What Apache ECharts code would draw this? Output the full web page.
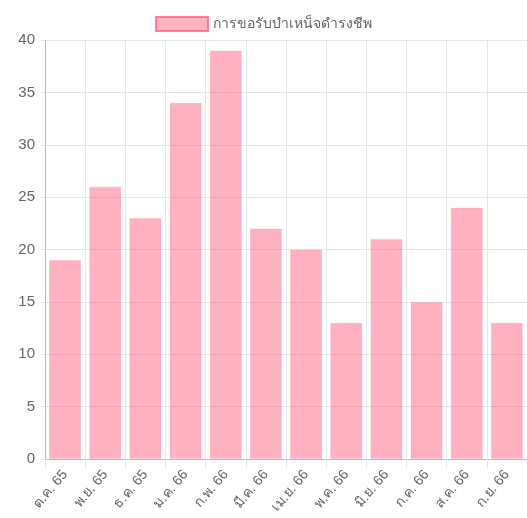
<!DOCTYPE html>
<html>
<head>
<meta charset="utf-8">
<script src="https://cdn.jsdelivr.net/npm/echarts@6/dist/echarts.min.js"></script>
<style>
  html, body { margin: 0; padding: 0; background: #fff; }
  #chart { width: 527px; height: 518px; }
</style>
</head>
<body>
<div id="chart"></div>
<script>
const months = ['ต.ค. 65', 'พ.ย. 65', 'ธ.ค. 65', 'ม.ค. 66', 'ก.พ. 66', 'มี.ค. 66',
    'เม.ย. 66', 'พ.ค. 66', 'มิ.ย. 66', 'ก.ค. 66', 'ส.ค. 66', 'ก.ย. 66'];
const requests = [19, 26, 23, 34, 39, 22, 20, 13, 21, 15, 24, 13];
const seriesName = 'การขอรับบำเหน็จดำรงชีพ';

const font = '"Liberation Sans", Arial, "Noto Sans", sans-serif';
const chart = echarts.init(document.getElementById('chart'));

chart.setOption({
    animation: false,
    legend: {
        top: 11,
        left: 'center',
        icon: 'rect',
        itemWidth: 52,
        itemHeight: 14,
        itemGap: 6,
        itemStyle: { borderColor: 'rgba(255, 99, 132, 0.8)', borderWidth: 2 },
        textStyle: { color: '#666', fontSize: 14, fontFamily: font },
        data: [seriesName]
    },
    grid: { left: 45, right: 0, top: 40, bottom: 59 },
    xAxis: {
        type: 'category',
        data: months,
        boundaryGap: true,
        axisLine: { lineStyle: { color: '#bbb', width: 1 } },
        axisTick: { show: true, length: 9, lineStyle: { color: '#e5e5e5' } },
        splitLine: { show: true, lineStyle: { color: '#e5e5e5' } },
        axisLabel: {
            rotate: 50,
            interval: 0,
            margin: 13,
            color: '#666',
            fontSize: 14,
            fontFamily: font
        }
    },
    yAxis: {
        type: 'value',
        min: 0,
        max: 40,
        interval: 5,
        axisLine: { show: true, lineStyle: { color: '#bbb', width: 1 } },
        axisTick: { show: true, length: 4, lineStyle: { color: '#e5e5e5' } },
        splitLine: { lineStyle: { color: '#e5e5e5' } },
        axisLabel: { color: '#666', fontSize: 15, margin: 10, fontFamily: font }
    },
    series: [{
        name: seriesName,
        type: 'bar',
        data: requests,
        barCategoryGap: '20%',
        itemStyle: {
            color: 'rgba(255, 99, 132, 0.5)',
            borderColor: 'rgba(255, 99, 132, 0.15)',
            borderWidth: 1
        },
        emphasis: { disabled: true }
    }]
});
</script>
</body>
</html>
